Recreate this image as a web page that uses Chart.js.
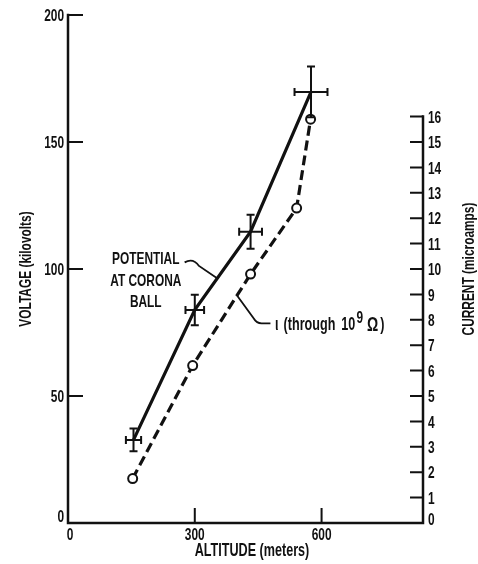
<!DOCTYPE html>
<html>
<head>
<meta charset="utf-8">
<script src="https://cdn.jsdelivr.net/npm/chart.js@4.4.1/dist/chart.umd.min.js"></script>
<style>
  body { margin: 0; background: #fff; }
  #chart { display: block; }
</style>
</head>
<body>
<canvas id="chart" width="478" height="564"></canvas>
<script>
// data
const altitude = [155, 300, 432, 575];
const altitudeErr = [18, 22, 27, 39];
const voltage = [32.7, 83.9, 114.7, 169.7];
const voltageErr = [4.5, 6, 6.7, 10];

const currentAltitude = [153, 295, 432, 541, 574];
const current = [1.75, 6.2, 9.8, 12.4, 15.9];

const xTicks = [0, 300, 600];
const voltTicks = [0, 50, 100, 150, 200];
const currentTicks = [0, 1, 2, 3, 4, 5, 6, 7, 8, 9, 10, 11, 12, 13, 14, 15, 16];

const FONT = "'Liberation Sans', Arial, sans-serif";
const SQUEEZE = 0.7;   // the original lettering is a condensed face
const INK = '#111';

// condensed text: baseline placed so the caps are centred on y
function label(ctx, s, x, y, size, align, rot) {
    ctx.save();
    ctx.translate(x, y);
    if (rot) ctx.rotate(rot);
    ctx.scale(SQUEEZE, 1);
    ctx.font = 'bold ' + size + 'px ' + FONT;
    ctx.textAlign = align || 'center';
    ctx.textBaseline = 'alphabetic';
    ctx.fillText(s, 0, size * 0.36);
    ctx.restore();
}

function labelWidth(ctx, s, size) {
    ctx.save();
    ctx.font = 'bold ' + size + 'px ' + FONT;
    const w = ctx.measureText(s).width * SQUEEZE;
    ctx.restore();
    return w;
}

const decorations = {
    id: 'decorations',
    afterDatasetsDraw(chart) {
        // error bars on the potential points
        const ctx = chart.ctx;
        const xs = chart.scales.x, ys = chart.scales.y;
        ctx.save();
        ctx.strokeStyle = INK;
        ctx.lineWidth = 2;
        ctx.beginPath();
        for (let i = 0; i < altitude.length; i++) {
            const px = xs.getPixelForValue(altitude[i]);
            const py = ys.getPixelForValue(voltage[i]);
            const x0 = xs.getPixelForValue(altitude[i] - altitudeErr[i]);
            const x1 = xs.getPixelForValue(altitude[i] + altitudeErr[i]);
            const y0 = ys.getPixelForValue(voltage[i] - voltageErr[i]);
            const y1 = ys.getPixelForValue(voltage[i] + voltageErr[i]);
            ctx.moveTo(x0, py); ctx.lineTo(x1, py);
            ctx.moveTo(x0, py - 4); ctx.lineTo(x0, py + 4);
            ctx.moveTo(x1, py - 4); ctx.lineTo(x1, py + 4);
            ctx.moveTo(px, y0); ctx.lineTo(px, y1);
            ctx.moveTo(px - 4, y0); ctx.lineTo(px + 4, y0);
            ctx.moveTo(px - 4, y1); ctx.lineTo(px + 4, y1);
        }
        ctx.stroke();
        ctx.restore();
    },
    afterDraw(chart) {
        const ctx = chart.ctx;
        const a = chart.chartArea;
        const xs = chart.scales.x, ys = chart.scales.y, y2 = chart.scales.y2;
        ctx.save();
        ctx.strokeStyle = INK;
        ctx.fillStyle = INK;
        ctx.lineWidth = 2.5;
        ctx.lineCap = 'square';

        // axes (right one only runs up to 16)
        const rx = Math.round(a.right);
        ctx.beginPath();
        ctx.moveTo(a.left, a.top);
        ctx.lineTo(a.left, a.bottom);
        ctx.lineTo(rx, a.bottom);
        ctx.lineTo(rx, y2.getPixelForValue(currentTicks[currentTicks.length - 1]));
        ctx.stroke();

        // inward ticks
        ctx.lineWidth = 2;
        ctx.lineCap = 'butt';
        ctx.beginPath();
        voltTicks.forEach(v => {
            if (v === 0) return;
            const py = ys.getPixelForValue(v);
            ctx.moveTo(a.left, py); ctx.lineTo(a.left + 15, py);
        });
        xTicks.forEach(v => {
            if (v === 0) return;
            const px = xs.getPixelForValue(v);
            ctx.moveTo(px, a.bottom); ctx.lineTo(px, a.bottom - 15);
        });
        currentTicks.forEach(v => {
            if (v === 0) return;
            const py = y2.getPixelForValue(v);
            ctx.moveTo(rx, py); ctx.lineTo(rx - 13, py);
        });
        ctx.stroke();

        // tick labels
        voltTicks.forEach(v => {
            const py = ys.getPixelForValue(v) - (v === 0 ? 7 : 0);
            label(ctx, String(v), a.left - 4, py, 17, 'right');
        });
        currentTicks.forEach(v => {
            const py = y2.getPixelForValue(v) - (v === 0 ? 4 : 0);
            label(ctx, String(v), rx + 5, py, 17, 'left');
        });
        xTicks.forEach(v => {
            label(ctx, String(v), xs.getPixelForValue(v) + (v === 0 ? 2 : 0), a.bottom + 11, 17, 'center');
        });

        // axis titles
        label(ctx, 'ALTITUDE (meters)', 252, 550, 18, 'center');
        label(ctx, 'VOLTAGE (kilovolts)', 25, (a.top + a.bottom) / 2, 17, 'center', -Math.PI / 2);
        label(ctx, 'CURRENT (microamps)', 468, (a.top + a.bottom) / 2, 17, 'center', -Math.PI / 2);

        // callouts
        const lx = xs.getPixelForValue(184);
        label(ctx, 'POTENTIAL', lx, ys.getPixelForValue(104.3), 17);
        label(ctx, 'AT CORONA', lx, ys.getPixelForValue(95.7), 17);
        label(ctx, 'BALL', lx, ys.getPixelForValue(87.4), 17);

        ctx.lineWidth = 1.8;
        ctx.beginPath();
        ctx.moveTo(xs.getPixelForValue(276), ys.getPixelForValue(102.6));
        ctx.quadraticCurveTo(xs.getPixelForValue(296), ys.getPixelForValue(104.5),
                             xs.getPixelForValue(310), ys.getPixelForValue(101.2));
        ctx.lineTo(xs.getPixelForValue(352), ys.getPixelForValue(96.5));
        ctx.stroke();

        ctx.beginPath();
        ctx.moveTo(xs.getPixelForValue(400), ys.getPixelForValue(89.6));
        ctx.lineTo(xs.getPixelForValue(440), ys.getPixelForValue(80.4));
        ctx.quadraticCurveTo(xs.getPixelForValue(446), ys.getPixelForValue(78.6),
                             xs.getPixelForValue(458), ys.getPixelForValue(78.6));
        ctx.lineTo(xs.getPixelForValue(479), ys.getPixelForValue(78.6));
        ctx.stroke();

        // "ι (through 10^9 Ω)" set piece by piece, with the loose spacing of the original
        let tx = xs.getPixelForValue(490);
        const ty = ys.getPixelForValue(78.4);
        label(ctx, '\u03b9', tx, ty, 18, 'left');
        tx += labelWidth(ctx, '\u03b9', 18) + 5;
        label(ctx, '(through', tx, ty, 18, 'left');
        tx += labelWidth(ctx, '(through', 18) + 6;
        label(ctx, '10', tx, ty, 18, 'left');
        tx += labelWidth(ctx, '10', 18) + 1;
        label(ctx, '9', tx, ty - 7, 17, 'left');
        tx += labelWidth(ctx, '9', 17) + 4;
        label(ctx, '\u03a9', tx, ty, 20, 'left');
        tx += labelWidth(ctx, '\u03a9', 20) + 2;
        label(ctx, ')', tx, ty, 18, 'left');
        ctx.restore();
    }
};

const hiddenTicks = { display: false };

new Chart(document.getElementById('chart'), {
    type: 'line',
    data: {
        datasets: [
            {
                label: 'Potential at corona ball',
                data: altitude.map((x, i) => ({ x: x, y: voltage[i] })),
                yAxisID: 'y',
                borderColor: INK,
                borderWidth: 3.2,
                pointRadius: 0,
                tension: 0
            },
            {
                label: 'i (through 10^9 ohm)',
                data: currentAltitude.map((x, i) => ({ x: x, y: current[i] })),
                yAxisID: 'y2',
                borderColor: INK,
                borderWidth: 3.2,
                borderDash: [10, 5],
                pointRadius: 4.5,
                pointBorderWidth: 2,
                pointBackgroundColor: '#fff',
                pointBorderColor: INK,
                tension: 0
            }
        ]
    },
    options: {
        responsive: false,
        animation: false,
        layout: { padding: { top: 15, left: 0, right: 0, bottom: 0 } },
        plugins: { legend: { display: false }, tooltip: { enabled: false } },
        scales: {
            x: {
                type: 'linear',
                min: 0,
                max: 840,
                grid: { display: false, drawTicks: false },
                border: { display: false },
                ticks: hiddenTicks,
                afterBuildTicks: s => { s.ticks = xTicks.map(v => ({ value: v })); },
                afterFit: s => { s.height = 41; }
            },
            y: {
                position: 'left',
                min: 0,
                max: 200,
                grid: { display: false, drawTicks: false },
                border: { display: false },
                ticks: hiddenTicks,
                afterBuildTicks: s => { s.ticks = voltTicks.map(v => ({ value: v })); },
                afterFit: s => { s.width = 68; }
            },
            y2: {
                position: 'right',
                min: 0,
                max: 20,
                grid: { display: false, drawTicks: false },
                border: { display: false },
                ticks: hiddenTicks,
                afterBuildTicks: s => { s.ticks = currentTicks.map(v => ({ value: v })); },
                afterFit: s => { s.width = 55; }
            }
        }
    },
    plugins: [decorations]
});
</script>
</body>
</html>
